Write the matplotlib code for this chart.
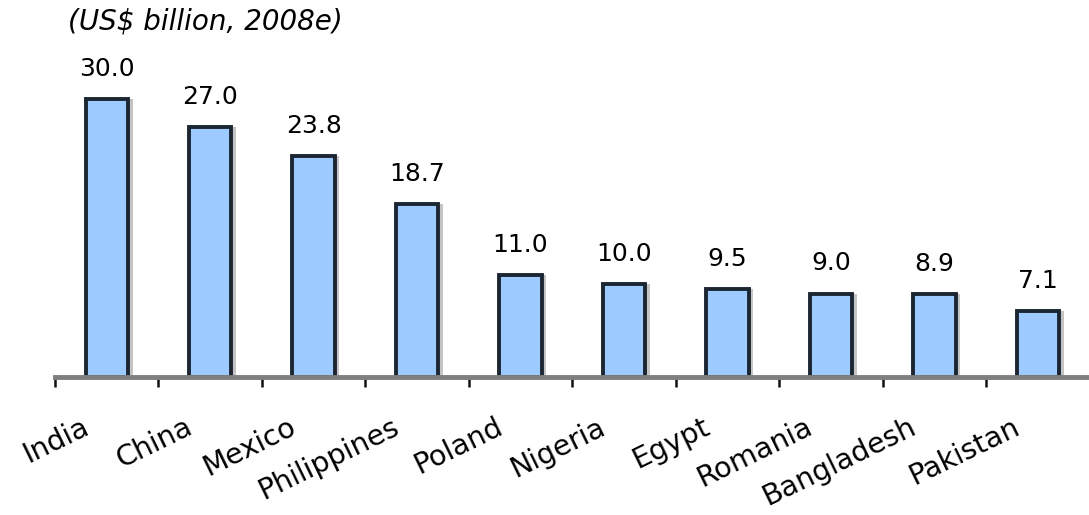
import matplotlib.pyplot as plt
import matplotlib.transforms as mtransforms
import numpy as np

countries = ['India', 'China', 'Mexico', 'Philippines', 'Poland', 'Nigeria',
             'Egypt', 'Romania', 'Bangladesh', 'Pakistan']
values = [30.0, 27.0, 23.8, 18.7, 11.0, 10.0, 9.5, 9.0, 8.9, 7.1]
value_labels = ['30.0', '27.0', '23.8', '18.7', '11.0', '10.0', '9.5', '9.0', '8.9', '7.1']
unit_label = '(US$ billion, 2008e)'

plt.rcParams['font.family'] = ['DejaVu Sans']

fig = plt.figure(figsize=(10.89, 5.15), dpi=100)
ax = fig.add_axes([0.0505, 0.268, 0.95, 0.648])

x = np.arange(len(countries))
w = 0.41

# grey drop shadow to the right of each bar
ax.bar(x + 0.045, values, width=w, color='#c4c4c4', zorder=1)
ax.bar(x, values, width=w, color='#9dcbff', edgecolor='#1c2633', linewidth=2.8, zorder=2)

for xi, v, lab in zip(x, values, value_labels):
    ax.annotate(lab, (xi, v), xytext=(0, 13), textcoords='offset points',
                ha='center', va='bottom', fontsize=18)

ax.set_xlim(-0.5, 9.5)
ax.set_ylim(0, 36)

for s in ['top', 'right', 'left']:
    ax.spines[s].set_visible(False)
ax.spines['bottom'].set_color('#7f7f7f')
ax.spines['bottom'].set_linewidth(3.5)
ax.set_yticks([])

# ticks between categories, labels drawn separately
ax.set_xticks([])
ax.set_xticks(np.arange(-0.5, 10, 1), minor=True)
ax.tick_params(axis='x', which='minor', direction='out', length=7, width=1.8,
               color='#111111', labelbottom=False)

offset = mtransforms.ScaledTranslation(-0.26, -0.36, fig.dpi_scale_trans)
for xi, name in zip(x, countries):
    ax.text(xi, 0, name, rotation=26, rotation_mode='anchor', ha='right', va='top',
            fontsize=20.5, transform=ax.transData + offset)

fig.text(0.062, 0.958, unit_label, fontsize=20, style='italic', ha='left', va='center')

fig.savefig('out.png', dpi=100)
